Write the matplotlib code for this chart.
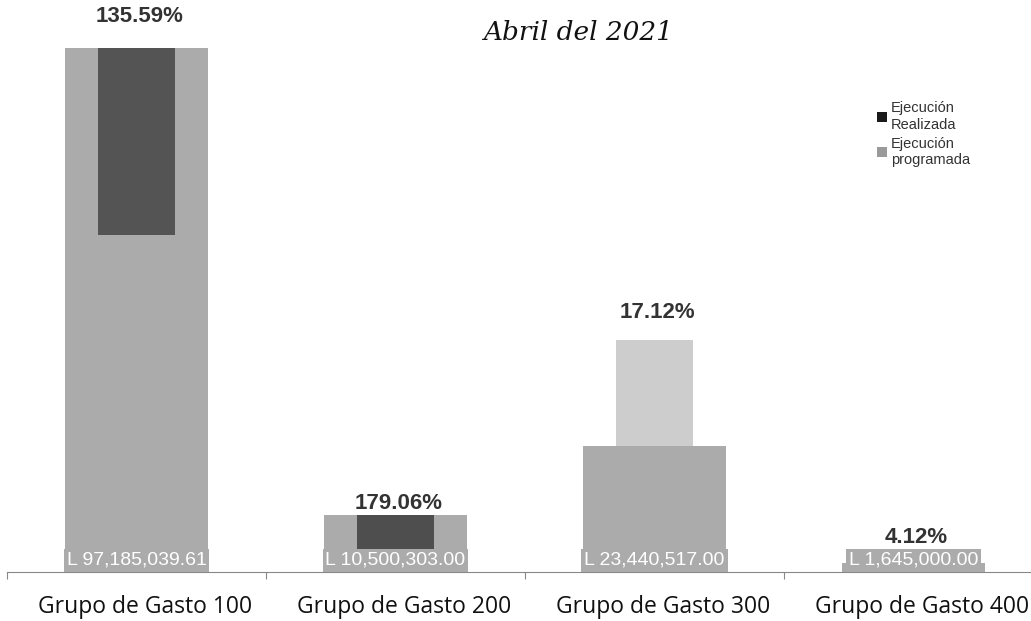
import matplotlib
matplotlib.use("Agg")
import matplotlib.pyplot as plt
from matplotlib.patches import Patch
from matplotlib.transforms import offset_copy

categories = ["Grupo de Gasto 100", "Grupo de Gasto 200", "Grupo de Gasto 300", "Grupo de Gasto 400"]
# Programmed execution (millions of Lempiras)
programada = [97.19, 10.50, 23.44, 1.645]
programada_labels = ["L 97,185,039.61", "L 10,500,303.00", "L 23,440,517.00", "L 1,645,000.00"]
# Realised execution as shown (visible narrow segment: bottom and top, millions)
realizada_bottom = [62.5, 0.0, 23.44, 1.645]
realizada_top = [97.19, 10.50, 43.0, 3.3]
realizada_colors = ["#545454", "#4e4e4e", "#cdcdcd", "#c4c4c4"]
porcentajes = ["135.59%", "179.06%", "17.12%", "4.12%"]

# label offsets above the bars, in pixels (style)
pct_offsets_px = [32, 12, 28, 17]

W, H = 1031, 621
fig = plt.figure(figsize=(W / 100, H / 100), dpi=100)
ax = fig.add_axes([7 / W, (H - 572) / H, 1036 / W, 572 / H])

x = list(range(len(categories)))
wide_color = "#ababab"
ax.bar(x, programada, width=0.555, color=wide_color, zorder=2)
heights = [t - b for t, b in zip(realizada_top, realizada_bottom)]
ax.bar(x, heights, bottom=realizada_bottom, width=0.30, color=realizada_colors, zorder=3)

ax.set_xlim(-0.5, 3.5)
ax.set_ylim(0, 106.1)

for xi, lab in zip(x, programada_labels):
    ax.text(xi, 2.2, lab, ha="center", va="center", color="white", fontsize=14,
            family="Liberation Sans", zorder=5,
            bbox=dict(boxstyle="square,pad=0.15", fc=wide_color, ec="none"))

tops = [max(p, r) for p, r in zip(programada, realizada_top)]
for xi, top, pct, off in zip(x, tops, porcentajes, pct_offsets_px):
    ax.annotate(pct, (xi, top), xytext=(2, off * 0.72), textcoords="offset points",
                ha="center", va="center", fontsize=16, fontweight="bold",
                family="Liberation Sans", color="#333333", annotation_clip=False)

for s in ["left", "right", "top"]:
    ax.spines[s].set_visible(False)
ax.spines["bottom"].set_color("#888888")
ax.set_yticks([])
ax.set_xticks([-0.5, 0.5, 1.5, 2.5])
ax.set_xticklabels([])
ax.tick_params(axis="x", length=5, color="#888888")
lab_trans = offset_copy(ax.get_xaxis_transform(), fig=fig, x=9, y=0, units="dots")
for xi, c in zip(x, categories):
    ax.text(xi, -0.061, c, transform=lab_trans, ha="center", va="center",
            fontsize=16.5, family="Open Sans", color="#111111")

fig.text(0.561, 0.948, "Abril del 2021", ha="center", va="center", fontsize=19,
         family="DejaVu Serif", style="italic", color="#111111")

handles = [Patch(facecolor="#1a1a1a", edgecolor="none", label="Ejecución\nRealizada"),
           Patch(facecolor="#9a9a9a", edgecolor="none", label="Ejecución\nprogramada")]
fig.legend(handles=handles, loc="upper left", bbox_to_anchor=(0.838, 0.858), frameon=False,
           prop=dict(family="Liberation Sans", size=10.5), handlelength=0.7, handleheight=0.7,
           handletextpad=0.25, labelspacing=0.35, labelcolor="#333333")

fig.savefig("out.png", dpi=100)
